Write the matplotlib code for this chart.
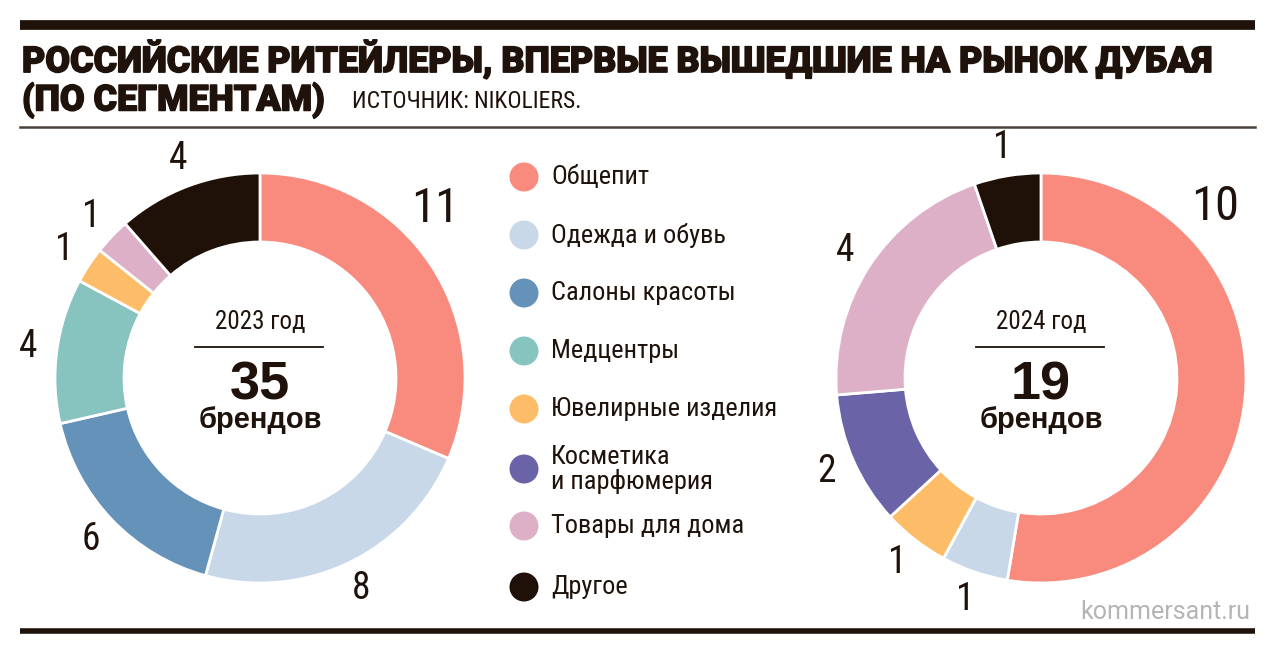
import numpy as np
import matplotlib.pyplot as plt
import matplotlib.patheffects as pe

# ---- data ----
categories = ['Общепит', 'Одежда и обувь', 'Салоны красоты', 'Медцентры',
              'Ювелирные изделия', 'Косметика\nи парфюмерия', 'Товары для дома', 'Другое']
counts_2023 = [11, 8, 6, 4, 1, 0, 1, 4]
counts_2024 = [10, 1, 0, 0, 1, 2, 4, 1]
years = ['2023 год', '2024 год']

colors = ['#F88B7E', '#C9D8E8', '#6592B8', '#87C3BF',
          '#FDBD68', '#6A63A8', '#DDB0C7', '#1F1108']
ink = '#1E120A'

cond = ['Roboto Condensed', 'Roboto', 'DejaVu Sans']
plt.rcParams['font.family'] = cond

W, H = 1276, 654
fig = plt.figure(figsize=(W / 100, H / 100), dpi=100)
ax = fig.add_axes([0, 0, 1, 1])


def Y(y):
    # pixel rows from top -> data y
    return H - y


def donut(cx, cy, vals, year, big_label_angle):
    total = sum(vals)
    ax.pie(vals, colors=colors, startangle=90, counterclock=False,
           center=(cx, Y(cy)), radius=205,
           wedgeprops=dict(width=69, edgecolor='white', linewidth=2))
    # value labels
    a0 = 90.0
    for i, v in enumerate(vals):
        span = 360.0 * v / total
        if v == 0:
            continue
        mid = a0 - span / 2
        r = 234
        size = 27
        if i == 0:
            mid = big_label_angle
            r = 244
            size = 35
        t = np.radians(mid)
        ax.text(cx + r * np.cos(t), Y(cy) + r * np.sin(t), str(v),
                ha='center', va='center', fontsize=size, color=ink)
        a0 -= span
    # centre text
    ax.text(cx, Y(cy - 56), year, ha='center', va='center', fontsize=18, color=ink)
    ax.plot([cx - 65, cx + 63], [Y(cy - 31), Y(cy - 31)], color=ink, lw=1.3)
    ax.text(cx, Y(cy + 7), str(total), ha='center', va='center', fontsize=39,
            fontweight='bold', family=['Liberation Sans', 'DejaVu Sans'], color=ink)
    ax.text(cx, Y(cy + 42), 'брендов', ha='center', va='center', fontsize=21,
            fontweight='bold', family=['Liberation Sans', 'DejaVu Sans'], color=ink)


donut(260, 378, counts_2023, years[0], 44)
donut(1041, 378, counts_2024, years[1], 44.5)

# legend
leg_y = [177, 235, 293, 351, 409, 469, 526, 587]
for c, lab, ly in zip(colors, categories, leg_y):
    ax.add_patch(plt.Circle((524, Y(ly)), 14.5, color=c, lw=0))
    ax.text(551, Y(ly), lab, ha='left', va='center', fontsize=19, color=ink,
            linespacing=1.0)

# title block
heavy = [pe.withStroke(linewidth=1.1, foreground=ink)]
ax.plot([20, 1255], [Y(25), Y(25)], color=ink, lw=7, solid_capstyle='butt')
ax.text(22, Y(60), 'РОССИЙСКИЕ РИТЕЙЛЕРЫ, ВПЕРВЫЕ ВЫШЕДШИЕ НА РЫНОК ДУБАЯ',
        ha='left', va='center', fontsize=25.8, fontweight='black',
        family=['Roboto', 'DejaVu Sans'], color=ink, path_effects=heavy)
ax.text(22, Y(100), '(ПО СЕГМЕНТАМ)', ha='left', va='center', fontsize=25.8,
        fontweight='black', family=['Roboto', 'DejaVu Sans'], color=ink,
        path_effects=heavy)
ax.text(352, Y(102), 'ИСТОЧНИК: NIKOLIERS.', ha='left', va='center',
        fontsize=17, color=ink)
ax.plot([20, 1255], [Y(127), Y(127)], color='#4a4038', lw=1.8)

# footer
ax.text(1250, Y(612), 'kommersant.ru', ha='right', va='center', fontsize=18,
        family=['Roboto', 'DejaVu Sans'], color='#b5b5b5')
ax.plot([20, 1255], [Y(631), Y(631)], color=ink, lw=4, solid_capstyle='butt')

ax.set_xlim(0, W)
ax.set_ylim(0, H)
ax.set_aspect('auto')
ax.axis('off')

fig.savefig('out.png', dpi=100, facecolor='white')
